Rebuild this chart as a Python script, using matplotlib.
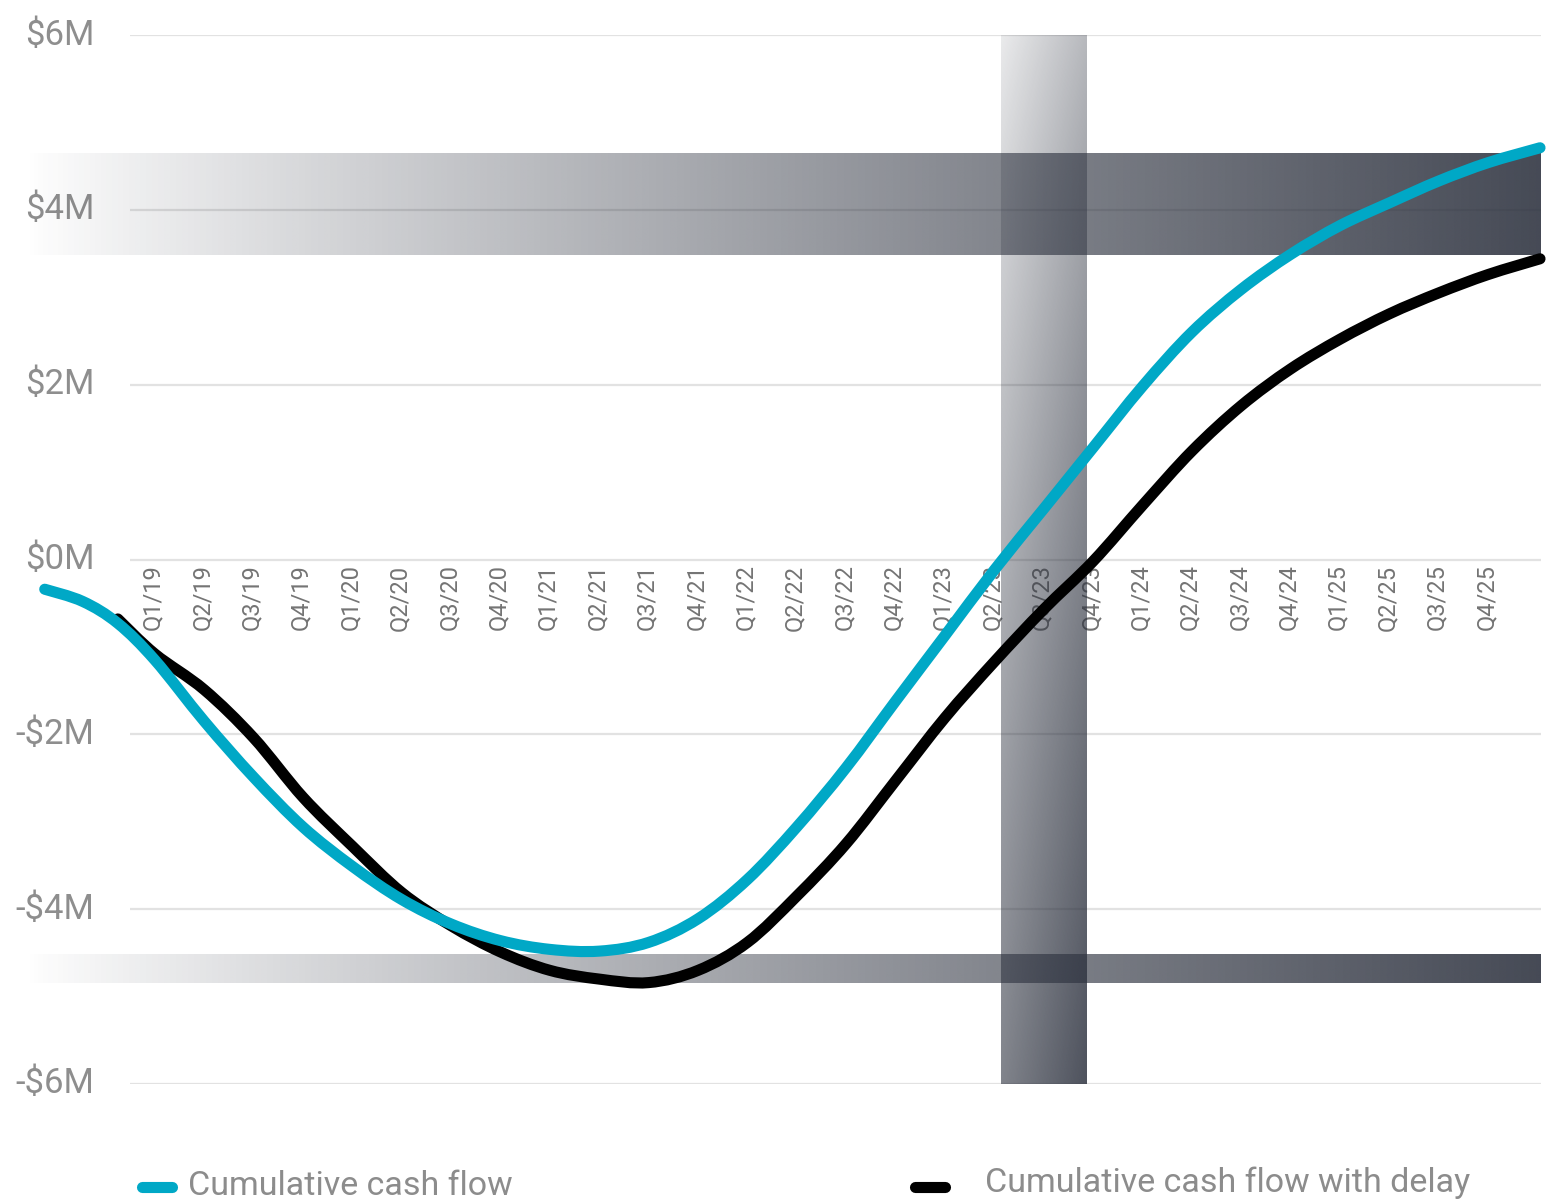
import numpy as np
import matplotlib
matplotlib.use("Agg")
import matplotlib.pyplot as plt
from matplotlib.lines import Line2D
from matplotlib.path import Path
from matplotlib.patches import PathPatch
import matplotlib.transforms as mtransforms

plt.rcParams['font.family'] = ['Roboto', 'DejaVu Sans']

# ---------------- data ----------------
quarters = ["Q1/19", "Q2/19", "Q3/19", "Q4/19", "Q1/20", "Q2/20", "Q3/20", "Q4/20",
            "Q1/21", "Q2/21", "Q3/21", "Q4/21", "Q1/22", "Q2/22", "Q3/22", "Q4/22",
            "Q1/23", "Q2/23", "Q3/23", "Q4/23", "Q1/24", "Q2/24", "Q3/24", "Q4/24",
            "Q1/25", "Q2/25", "Q3/25", "Q4/25"]

# positions in quarter units (0 = Q1/19)
cash_x = [-2.23, -1.46, -0.75] + list(range(28)) + [28.05]
cash_flow = [-0.34, -0.48, -0.73,
             -1.15, -1.85, -2.49, -3.06, -3.51, -3.89, -4.17, -4.36,
             -4.46, -4.48, -4.38, -4.11, -3.66, -3.06, -2.38, -1.62,
             -0.87, -0.12, 0.58, 1.28, 1.98, 2.60, 3.09, 3.49,
             3.82, 4.08, 4.33, 4.54,
             4.71]

delay_x = [-0.75] + list(range(28)) + [28.05]
cash_flow_delay = [-0.68,
                   -1.08, -1.49, -2.04, -2.72, -3.28, -3.81, -4.19, -4.49,
                   -4.70, -4.80, -4.84, -4.70, -4.38, -3.85, -3.25, -2.53,
                   -1.81, -1.17, -0.57, -0.02, 0.62, 1.24, 1.76, 2.18,
                   2.52, 2.81, 3.05, 3.26,
                   3.44]

y_ticks = [6, 4, 2, 0, -2, -4, -6]
y_labels = [r"\$6M", r"\$4M", r"\$2M", r"\$0M", r"-\$2M", r"-\$4M", r"-\$6M"]

upper_band = (3.48, 4.64)     # $M range
lower_band = (-4.84, -4.51)   # $M range
vertical_band = (17.14, 18.88)  # quarter range

series_names = ["Cumulative cash flow", "Cumulative cash flow with delay"]

# ---------------- styling ----------------
W, H = 1551, 1204
fig = plt.figure(figsize=(W / 100, H / 100), dpi=100)
fig.patch.set_facecolor("white")

left_px, right_px, top_px, bottom_px = 24, 1541, 35, 1084
ax = fig.add_axes([left_px / W, 1 - bottom_px / H,
                   (right_px - left_px) / W, (bottom_px - top_px) / H])
x0 = -2.65
x1 = 28.07
ax.set_xlim(x0, x1)
ax.set_ylim(-6, 6)
ax.axis("off")

CYAN = "#00a8c6"
DARK = np.array([44, 49, 62]) / 255.0
GRID = "#e2e2e2"

# gridlines
ax.hlines(y_ticks, -0.5, x1, colors=GRID, linewidth=1.6, zorder=1)

# y labels
for v, lab in zip(y_ticks, y_labels):
    ax.text(-1.22, v, lab, ha="right", va="center", fontsize=25,
            color="#8e8e8e", zorder=2)

# x labels
off = mtransforms.offset_copy(ax.transData, fig=fig, x=0, y=-5, units="dots")
for i, q in enumerate(quarters):
    ax.text(i - 0.04, 0, q, rotation=90, ha="center", va="top", fontsize=17,
            color="#747474", transform=off, zorder=2)

# horizontal gradient bands
n = 400
frac = np.linspace(0, 1, n)
alpha_h = 0.88 * frac ** 0.9
img_h = np.zeros((1, n, 4))
img_h[..., :3] = DARK
img_h[..., 3] = alpha_h
for lo, hi in (upper_band, lower_band):
    ax.imshow(img_h, extent=(x0, x1, lo, hi), aspect="auto",
              interpolation="bilinear", zorder=3)

# vertical gradient band (diagonal)
ny, nx = 300, 60
yf, xf = np.mgrid[0:1:ny * 1j, 0:1:nx * 1j]
alpha_v = np.clip(0.10 + 0.24 * xf + 0.50 * yf ** 0.85, 0, 1)
img_v = np.zeros((ny, nx, 4))
img_v[..., :3] = DARK
img_v[..., 3] = alpha_v
ax.imshow(img_v, extent=(vertical_band[0], vertical_band[1], -6, 6),
          aspect="auto", origin="upper", interpolation="bilinear", zorder=3)

ax.set_xlim(x0, x1)
ax.set_ylim(-6, 6)


def smooth_path(xs, ys):
    """Catmull-Rom style cubic Bezier path through the given data points."""
    p = np.column_stack([xs, ys]).astype(float)
    verts = [p[0]]
    codes = [Path.MOVETO]
    for i in range(len(p) - 1):
        p0 = p[i - 1] if i > 0 else p[i]
        p1, p2 = p[i], p[i + 1]
        p3 = p[i + 2] if i + 2 < len(p) else p[i + 1]
        c1 = p1 + (p2 - p0) / 6.0
        c2 = p2 - (p3 - p1) / 6.0
        verts += [c1, c2, p2]
        codes += [Path.CURVE4] * 3
    return Path(verts, codes)


for xs, ys, col, z in ((delay_x, cash_flow_delay, "black", 4),
                       (cash_x, cash_flow, CYAN, 5)):
    patch = PathPatch(smooth_path(xs, ys), facecolor="none", edgecolor=col,
                      linewidth=8, capstyle="round", joinstyle="round",
                      zorder=z, clip_on=False)
    ax.add_patch(patch)

# legend (figure pixel positions)
def fx(px):
    return px / W

def fy(py):
    return 1 - py / H

fig.add_artist(Line2D([fx(142), fx(172)], [fy(1187), fy(1187)], color=CYAN,
                      linewidth=8, solid_capstyle="round"))
fig.text(fx(188), fy(1186), series_names[0], ha="left", va="center",
         fontsize=24.5, color="#8c8c8c")
fig.add_artist(Line2D([fx(915), fx(945)], [fy(1187), fy(1187)], color="black",
                      linewidth=8, solid_capstyle="round"))
fig.text(fx(985), fy(1183), series_names[1], ha="left", va="center",
         fontsize=24.5, color="#8c8c8c")

fig.savefig("out.png", dpi=100, facecolor="white")
